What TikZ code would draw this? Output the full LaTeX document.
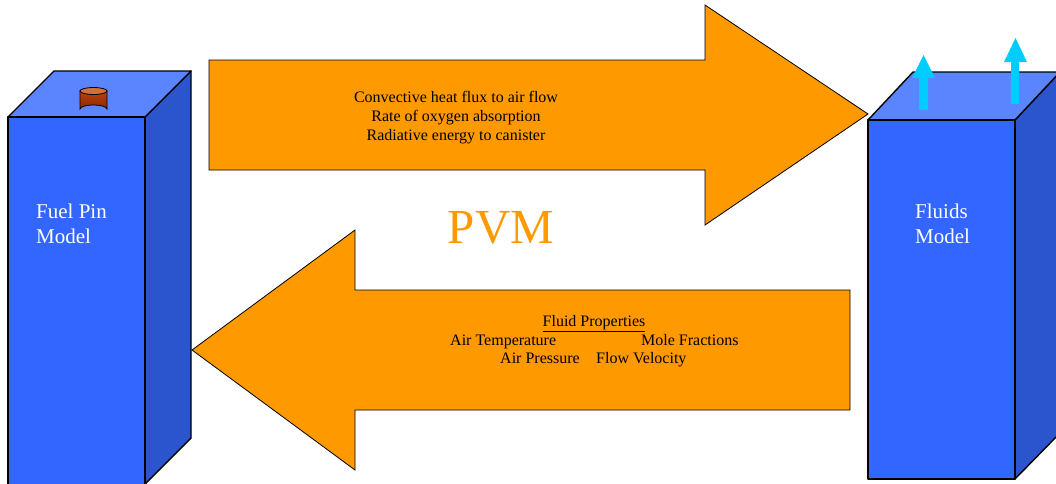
\documentclass[tikz,border=0pt]{standalone}
\usepackage{fontspec}
\setmainfont{Liberation Serif}
\usetikzlibrary{shapes.geometric}
\definecolor{frontblue}{HTML}{3366FF}
\definecolor{topblue}{HTML}{5B84FF}
\definecolor{sideblue}{HTML}{2B55CC}
\definecolor{orangeA}{HTML}{FF9900}
\definecolor{cyanA}{HTML}{00CCFF}
\definecolor{canDark}{HTML}{8B2A00}
\definecolor{canMid}{HTML}{B84010}
\definecolor{canTop}{HTML}{D0703A}
\tikzset{
  face/.style={draw=black, line width=1.4pt, line join=round},
  bigarrow/.style={draw=black, line width=0.8pt, fill=orangeA, line join=miter},
  labeltext/.style={font=\fontsize{16}{19}\selectfont, align=center, inner sep=0pt, text=black, anchor=base},
  modeltext/.style={font=\fontsize{21}{25}\selectfont, align=left, inner sep=0pt, text=white, anchor=base west},
  upflow/.style={fill=cyanA, draw=none}
}
\begin{document}
\begin{tikzpicture}[x=1pt,y=-1pt]
\useasboundingbox (0,0) rectangle (1056,483);
% Left cube
\draw[face, fill=sideblue] (145,117) -- (191,71) -- (191,438) -- (145,484) -- cycle;
\draw[face, fill=topblue] (8,117) -- (54,71) -- (191,71) -- (145,117) -- cycle;
\draw[face, fill=frontblue] (8,117) rectangle (145,490);
% canister
\shade[top color=canMid, bottom color=canDark, draw=black, line width=0.8pt]
  (80,91) -- (80,109) arc[start angle=180, end angle=360, x radius=13.5, y radius=4] -- (107,91) -- cycle;
\draw[black, line width=0.8pt, fill=canTop] (93.5,91) ellipse[x radius=13.5, y radius=3.5];
% Right cube
\draw[face, fill=sideblue] (1015,120) -- (1060,72) -- (1060,433) -- (1015,479) -- cycle;
\draw[face, fill=topblue] (868,120) -- (913,72) -- (1060,72) -- (1015,120) -- cycle;
\draw[face, fill=frontblue] (868,120) rectangle (1015,479);
% cyan arrows
\fill[upflow] (919,110) -- (919,78) -- (912,78) -- (923.5,55) -- (935,78) -- (928,78) -- (928,110) -- cycle;
\fill[upflow] (1011,104) -- (1011,62) -- (1004,62) -- (1015.5,38) -- (1027,62) -- (1019,62) -- (1019,104) -- cycle;
% Right orange arrow
\draw[bigarrow] (209,60) -- (705,60) -- (705,5) -- (868,114) -- (705,225) -- (705,170) -- (209,170) -- cycle;
% Left orange arrow
\draw[bigarrow] (850,290) -- (355,290) -- (355,230) -- (192,350) -- (355,470) -- (355,410) -- (850,410) -- cycle;
% texts
\node[labeltext] (toplbl) at (456,140) {Convective heat flux to air flow\\Rate of oxygen absorption\\Radiative energy to canister};
\node[labeltext] (fp) at (594,326) {\underline{Fluid Properties}};
\node[labeltext, anchor=base west] (at) at (450,345) {Air Temperature};
\node[labeltext, anchor=base west] (mf) at (641,345) {Mole Fractions};
\node[labeltext, anchor=base west] (ap) at (500,363) {Air Pressure};
\node[labeltext, anchor=base west] (fv) at (596,363) {Flow Velocity};
\node[font=\fontsize{49}{54}\selectfont, text=orangeA, inner sep=0pt] (pvm) at (501,228) {PVM};
\node[modeltext] (fuel) at (36,243) {Fuel Pin\\Model};
\node[modeltext] (fluids) at (915,243) {Fluids\\Model};
\end{tikzpicture}
\end{document}
